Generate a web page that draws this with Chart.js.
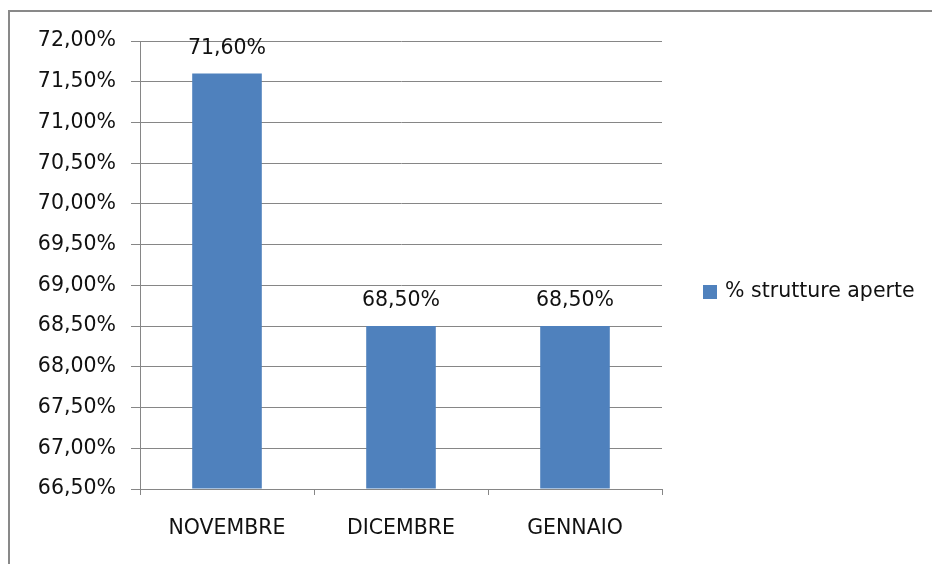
<!DOCTYPE html>
<html>
<head>
<meta charset="utf-8">
<script src="https://cdn.jsdelivr.net/npm/chart.js@4/dist/chart.umd.min.js"></script>
<style>
  html, body { margin: 0; padding: 0; background: #fff; }
  #wrap { width: 932px; height: 564px; position: relative; }
</style>
</head>
<body>
<div id="wrap"><canvas id="chart" width="932" height="564"></canvas></div>
<script>
// dati del grafico
const mesi = ["NOVEMBRE", "DICEMBRE", "GENNAIO"];
const strutturePerc = [71.6, 68.5, 68.5];
const serieNome = "% strutture aperte";
const yMin = 66.5;
const yMax = 72;
const yStep = 0.5;

const FONT = "'DejaVu Sans', Verdana, sans-serif";
const FONT_SIZE = 20.5;
const BAR_COLOR = "#4F81BD";
const GRID_COLOR = "#868686";

const fmt = v => v.toFixed(2).replace(".", ",") + "%";

// cornice esterna (solo lato sinistro e superiore visibili)
const framePlugin = {
    id: "frame",
    beforeDraw(chart) {
        const { ctx } = chart;
        ctx.save();
        ctx.strokeStyle = "#898989";
        ctx.lineWidth = 2;
        ctx.beginPath();
        ctx.moveTo(9, chart.height);
        ctx.lineTo(9, 11);
        ctx.lineTo(chart.width, 11);
        ctx.stroke();
        ctx.restore();
    }
};

// etichette sopra le barre
const valueLabels = {
    id: "valueLabels",
    afterDatasetsDraw(chart) {
        const { ctx } = chart;
        const meta = chart.getDatasetMeta(0);
        ctx.save();
        ctx.font = FONT_SIZE + "px " + FONT;
        ctx.fillStyle = "#111";
        ctx.textAlign = "center";
        ctx.textBaseline = "middle";
        meta.data.forEach((bar, i) => {
            ctx.fillText(fmt(chart.data.datasets[0].data[i]), bar.x, bar.y - 25);
        });
        ctx.restore();
    }
};

// legenda a destra
const sideLegend = {
    id: "sideLegend",
    afterDraw(chart) {
        const { ctx, chartArea } = chart;
        const ds = chart.data.datasets[0];
        const x = chartArea.right + 41;
        const y = (chartArea.top + chartArea.bottom) / 2 + 27;
        ctx.save();
        ctx.fillStyle = ds.backgroundColor;
        ctx.fillRect(x, y - 7, 14, 14);
        ctx.font = FONT_SIZE + "px " + FONT;
        ctx.fillStyle = "#111";
        ctx.textAlign = "left";
        ctx.textBaseline = "middle";
        ctx.fillText(ds.label, x + 22, y);
        ctx.restore();
    }
};

new Chart(document.getElementById("chart"), {
    type: "bar",
    data: {
        labels: mesi,
        datasets: [{
            label: serieNome,
            data: strutturePerc,
            backgroundColor: BAR_COLOR,
            base: yMin,
            barPercentage: 0.8,
            categoryPercentage: 0.5
        }]
    },
    options: {
        responsive: false,
        animation: false,
        layout: { padding: { left: 0, right: 270, top: 41, bottom: 0 } },
        plugins: {
            legend: { display: false },
            tooltip: { enabled: false }
        },
        scales: {
            x: {
                offset: true,
                grid: {
                    offset: true,
                    drawOnChartArea: false,
                    drawTicks: true,
                    tickLength: 6,
                    color: GRID_COLOR
                },
                border: { color: GRID_COLOR, width: 1 },
                ticks: {
                    padding: 21,
                    color: "#111",
                    font: { family: FONT, size: FONT_SIZE }
                },
                afterFit(scale) { scale.height = 564 - 489; }
            },
            y: {
                min: yMin,
                max: yMax,
                ticks: {
                    stepSize: yStep,
                    padding: 15,
                    color: "#111",
                    font: { family: FONT, size: FONT_SIZE },
                    callback: v => fmt(v)
                },
                grid: {
                    color: GRID_COLOR,
                    tickLength: 9,
                    lineWidth: 1
                },
                border: { color: GRID_COLOR, width: 1 },
                afterFit(scale) { scale.width = 140; }
            }
        }
    },
    plugins: [framePlugin, valueLabels, sideLegend]
});
</script>
</body>
</html>
